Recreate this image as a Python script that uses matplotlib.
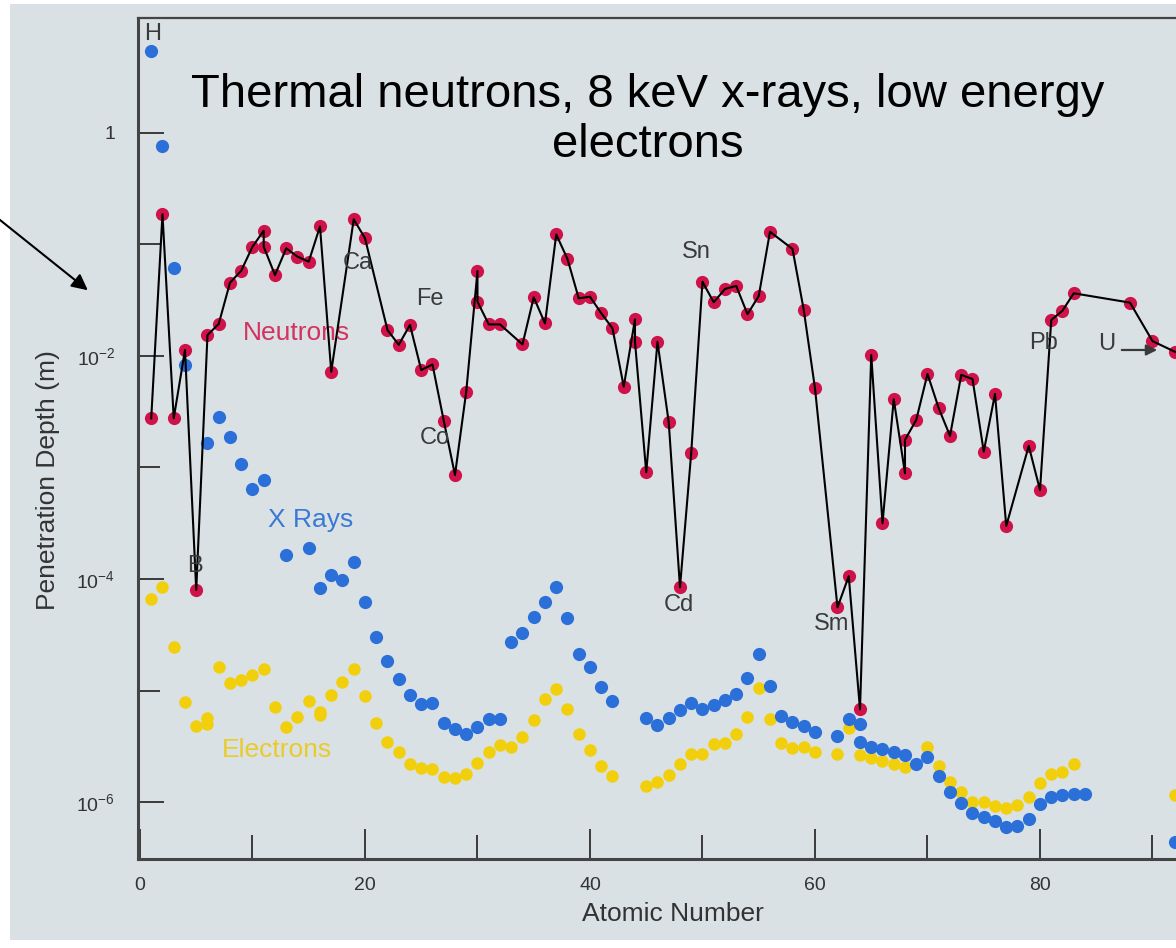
import matplotlib
matplotlib.use("Agg")
import matplotlib.pyplot as plt
from matplotlib.patches import Rectangle
from matplotlib.ticker import NullFormatter

plt.rcParams['font.family'] = ['Liberation Sans', 'DejaVu Sans']
plt.rcParams['mathtext.default'] = 'regular'

# thermal neutrons (line + red dots), atomic number vs penetration depth in m
neutron_z = [1, 2, 3, 4, 5, 6, 7, 8, 9, 10, 11, 11, 12, 13, 14, 15, 16, 17, 19, 20,
             22, 23, 24, 25, 26, 27, 28, 29, 30, 30, 31, 32, 34, 35, 36, 37, 38, 39, 40, 41,
             42, 43, 44, 44, 45, 46, 47, 48, 49, 50, 51, 52, 53, 54, 55, 56, 58, 59, 60, 62,
             63, 64, 65, 66, 67, 68, 68, 69, 70, 71, 72, 73, 74, 75, 76, 77, 79, 80, 81, 82,
             83, 88, 90, 92]
neutron_depth = [2.76e-3, 0.187, 2.76e-3, 1.13e-2, 7.96e-5, 1.54e-2, 1.94e-2, 4.54e-2, 5.82e-2, 9.55e-2,
                 0.133, 9.55e-2, 5.32e-2, 9.25e-2, 7.78e-2, 7.02e-2, 0.145, 7.23e-3, 0.168, 0.114,
                 1.71e-2, 1.26e-2, 1.90e-2, 7.48e-3, 8.39e-3, 2.63e-3, 8.57e-4, 4.79e-3, 5.78e-2, 3.07e-2,
                 1.92e-2, 1.92e-2, 1.27e-2, 3.36e-2, 1.96e-2, 0.123, 7.41e-2, 3.29e-2, 3.40e-2, 2.42e-2,
                 1.77e-2, 5.31e-3, 2.13e-2, 1.34e-2, 9.06e-4, 1.34e-2, 2.54e-3, 8.43e-5, 1.36e-3, 4.63e-2,
                 3.03e-2, 3.99e-2, 4.25e-2, 2.37e-2, 3.45e-2, 0.130, 9.12e-2, 2.59e-2, 5.13e-3, 5.57e-5,
                 1.06e-4, 6.78e-6, 1.02e-2, 3.16e-4, 4.09e-3, 8.87e-4, 1.77e-3, 2.67e-3, 6.90e-3, 3.40e-3,
                 1.92e-3, 6.76e-3, 6.22e-3, 1.39e-3, 4.56e-3, 2.99e-4, 1.56e-3, 6.28e-4, 2.10e-2, 2.55e-2,
                 3.65e-2, 3.01e-2, 1.36e-2, 1.09e-2]

# 8 keV x-rays (blue)
xray_z = [1, 2, 3, 4, 6, 7, 8, 9, 10, 11, 13, 15, 16, 17, 18, 19, 20, 21, 22, 23,
          24, 25, 26, 27, 28, 29, 30, 31, 32, 33, 34, 35, 36, 37, 38, 39, 40, 41, 42, 45,
          46, 47, 48, 49, 50, 51, 52, 53, 54, 55, 56, 57, 58, 59, 60, 62, 63, 64, 64, 65,
          66, 67, 68, 69, 70, 71, 72, 73, 74, 75, 76, 77, 78, 79, 80, 81, 82, 83, 84, 92]
xray_depth = [5.44, 0.764, 6.19e-2, 8.3e-3, 1.67e-3, 2.82e-3, 1.86e-3, 1.07e-3, 6.44e-4, 7.73e-4,
              1.65e-4, 1.88e-4, 8.34e-5, 1.08e-4, 9.86e-5, 1.42e-4, 6.19e-5, 3.02e-5, 1.84e-5, 1.28e-5,
              9.06e-6, 7.52e-6, 7.68e-6, 5.14e-6, 4.49e-6, 4.07e-6, 4.68e-6, 5.53e-6, 5.57e-6, 2.74e-5,
              3.26e-5, 4.54e-5, 6.18e-5, 8.53e-5, 4.50e-5, 2.11e-5, 1.61e-5, 1.07e-5, 8.11e-6, 5.70e-6,
              4.91e-6, 5.70e-6, 6.68e-6, 7.80e-6, 6.83e-6, 7.41e-6, 8.22e-6, 9.31e-6, 1.30e-5, 2.11e-5,
              1.10e-5, 5.90e-6, 5.25e-6, 4.79e-6, 4.27e-6, 3.91e-6, 5.55e-6, 3.48e-6, 4.97e-6, 3.13e-6,
              2.99e-6, 2.79e-6, 2.64e-6, 2.19e-6, 2.52e-6, 1.71e-6, 1.22e-6, 9.73e-7, 7.92e-7, 7.29e-7,
              6.80e-7, 6.00e-7, 6.12e-7, 7.05e-7, 9.59e-7, 1.10e-6, 1.16e-6, 1.18e-6, 1.18e-6, 4.41e-7]

# low energy electrons (yellow)
electron_z = [1, 2, 3, 4, 5, 6, 6, 7, 8, 9, 10, 11, 12, 13, 14, 15, 16, 16, 17, 18,
              19, 20, 21, 22, 23, 24, 25, 26, 27, 28, 29, 30, 31, 32, 33, 34, 35, 36, 37, 38,
              39, 40, 41, 42, 45, 46, 47, 48, 49, 50, 51, 52, 53, 54, 55, 56, 57, 58, 59, 60,
              62, 63, 64, 65, 66, 67, 68, 70, 71, 72, 73, 74, 75, 76, 77, 78, 79, 80, 81, 82,
              83, 92]
electron_depth = [6.55e-5, 8.43e-5, 2.45e-5, 7.88e-6, 4.81e-6, 5.63e-6, 5.01e-6, 1.61e-5, 1.17e-5, 1.24e-5,
                  1.38e-5, 1.55e-5, 7.16e-6, 4.73e-6, 5.75e-6, 8.11e-6, 6.03e-6, 6.46e-6, 9.12e-6, 1.20e-5,
                  1.55e-5, 8.98e-6, 5.14e-6, 3.48e-6, 2.83e-6, 2.18e-6, 2.00e-6, 1.98e-6, 1.69e-6, 1.63e-6,
                  1.78e-6, 2.25e-6, 2.83e-6, 3.22e-6, 3.13e-6, 3.85e-6, 5.43e-6, 8.39e-6, 1.03e-5, 6.78e-6,
                  4.05e-6, 2.92e-6, 2.12e-6, 1.71e-6, 1.40e-6, 1.52e-6, 1.75e-6, 2.19e-6, 2.69e-6, 2.69e-6,
                  3.31e-6, 3.40e-6, 4.07e-6, 5.75e-6, 1.05e-5, 5.55e-6, 3.36e-6, 3.03e-6, 3.10e-6, 2.79e-6,
                  2.68e-6, 4.61e-6, 2.64e-6, 2.47e-6, 2.32e-6, 2.18e-6, 2.07e-6, 3.13e-6, 2.12e-6, 1.52e-6,
                  1.22e-6, 1.01e-6, 9.93e-7, 9.26e-7, 8.78e-7, 9.40e-7, 1.12e-6, 1.49e-6, 1.77e-6, 1.85e-6,
                  2.19e-6, 1.15e-6]

y_ticks = [1, 1e-2, 1e-4, 1e-6]
y_ticklabels = ['1', '$10^{-2}$', '$10^{-4}$', '$10^{-6}$']

W, H = 1176, 948
bg = '#d9e1e4'
red = '#d0124a'
blue = '#2b6fd8'
yellow = '#f2cf0c'
ink = '#3a3a3a'

fig = plt.figure(figsize=(W / 100, H / 100), dpi=100, facecolor='white')
fig.patches.append(Rectangle((10 / W, 8 / H), (W - 10) / W, 936 / H,
                             transform=fig.transFigure, facecolor=bg, edgecolor='none', zorder=-5))

# axes runs off the right edge like the cropped scan
ax = fig.add_axes([137.5 / W, (H - 859) / H, (1208.75 - 137.5) / W, (859 - 18) / H])
ax.patch.set_alpha(0)
ax.set_yscale('log')
ax.set_xlim(-0.22, 95)
ax.set_ylim(10 ** -6.511, 10 ** 1.031)


def px(x, y):
    # pixel position of the scan -> data coords (for text placement only)
    return (x - 140) / 11.25, 10 ** ((133 - y) / 111.5)


ax.plot(electron_z, electron_depth, 'o', color=yellow, ms=9, mec='none', zorder=3)
ax.plot(xray_z, xray_depth, 'o', color=blue, ms=9.5, mec='none', zorder=4)
ax.plot(neutron_z, neutron_depth, 'o', color=red, ms=9.5, mec='none', zorder=5)
ax.plot(neutron_z, neutron_depth, '-', color='black', lw=1.5, zorder=6)

ax.set_yticks(y_ticks)
ax.set_yticklabels(y_ticklabels)
ax.set_yticks([1e-1, 1e-3, 1e-5], minor=True)
ax.yaxis.set_minor_formatter(NullFormatter())
ax.set_xticks([0, 20, 40, 60, 80])
ax.set_xticks([10, 30, 50, 70, 90], minor=True)

ax.tick_params(which='both', direction='in', width=1.4, color=ink, labelcolor='#333333', labelsize=14)
ax.tick_params(axis='y', which='major', length=18.5, pad=16)
ax.tick_params(axis='y', which='minor', length=16)
ax.tick_params(axis='x', which='major', length=21.5, pad=13)
ax.tick_params(axis='x', which='minor', length=17)

for s in ['left', 'bottom']:
    ax.spines[s].set_linewidth(2.2)
    ax.spines[s].set_color('#444444')
ax.spines['top'].set_linewidth(1.6)
ax.spines['top'].set_color('#444444')
ax.spines['right'].set_visible(False)

ax.set_xlabel('Atomic Number', fontsize=19, color='#333333', labelpad=6)
fig.text(48 / W, 1 - 480 / H, 'Penetration Depth (m)', rotation=90, ha='center', va='center',
         fontsize=19, color='#333333')

fig.text(648 / W, 1 - 120 / H, 'Thermal neutrons, 8 keV x-rays, low energy\nelectrons',
         ha='center', va='center', fontsize=34, color='black')

# element labels
for name, x, y in [('H', 153, 34), ('Ca', 358, 263), ('Fe', 430, 299), ('Co', 435, 438),
                   ('B', 195, 566), ('Sn', 696, 252), ('Cd', 679, 605), ('Sm', 832, 624),
                   ('Pb', 1044, 343), ('U', 1107, 344)]:
    ax.text(*px(x, y), name, ha='center', va='center', fontsize=17, color=ink, zorder=7)

ax.annotate('', xy=px(1160, 350), xytext=px(1119, 350),
            arrowprops=dict(arrowstyle='-|>', color=ink, lw=1.6, mutation_scale=16), zorder=7)

ax.text(*px(296, 333), 'Neutrons', ha='center', va='center', fontsize=19, color='#d4325f')
ax.text(*px(311, 520), 'X Rays', ha='center', va='center', fontsize=19, color='#3a78d6')
ax.text(*px(277, 750), 'Electrons', ha='center', va='center', fontsize=19, color='#eacb2a')

# arrow coming in from the left margin
ax.annotate('', xy=(90, H - 292), xycoords='figure pixels', xytext=(-10, H - 212),
            textcoords='figure pixels', annotation_clip=False,
            arrowprops=dict(arrowstyle='-|>', color='black', lw=1.5, mutation_scale=24))

fig.savefig('out.png', dpi=100, facecolor=fig.get_facecolor())
